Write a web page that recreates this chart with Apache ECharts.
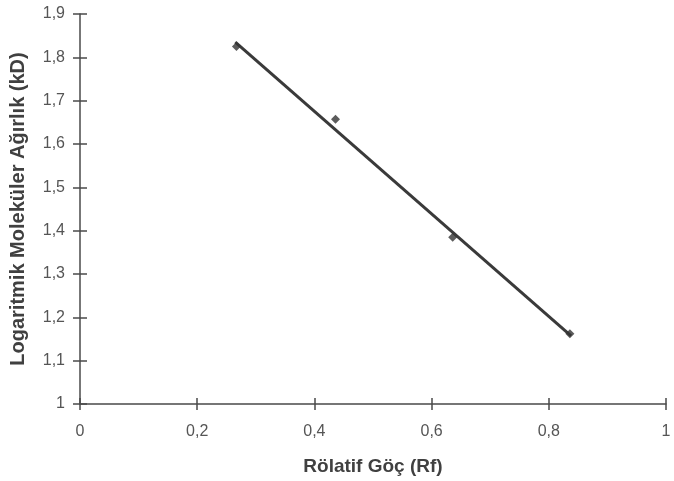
<!DOCTYPE html>
<html><head><meta charset="utf-8">
<script src="https://cdn.jsdelivr.net/npm/echarts@6/dist/echarts.min.js"></script>
<style>html,body{margin:0;padding:0;background:#fff}#c{width:674px;height:481px}</style>
</head><body><div id="c"></div>
<script>
var rfValues = [0.267, 0.436, 0.636, 0.836];
var logMwValues = [1.825, 1.657, 1.385, 1.162];
var trendX = [0.265, 0.838];
var trendY = [1.835, 1.157];
var xTitle = 'Rölatif Göç (Rf)';
var yTitle = 'Logaritmik Moleküler Ağırlık (kD)';

function fmt(v){ return String(+(+v).toFixed(1)).replace('.', ','); }
var pts = rfValues.map(function(x,i){ return [x, logMwValues[i]]; });
var trend = trendX.map(function(x,i){ return [x, trendY[i]]; });
var axisCol = '#4a4a4a';
var labelStyle = {fontFamily:'Liberation Sans', fontSize:16, color:'#555'};
var titleStyle = {fontFamily:'Liberation Sans', fontWeight:'bold', fontSize:19, color:'#404040'};
var chart = echarts.init(document.getElementById('c'), null, {renderer:'canvas'});
chart.setOption({
  backgroundColor:'#fff',
  animation:false,
  grid:{left:80, right:8, top:14, bottom:77},
  xAxis:[{
    type:'value', min:0, max:1, interval:0.2,
    name:xTitle, nameLocation:'middle', nameGap:53,
    nameTextStyle:titleStyle,
    axisLine:{show:true, onZero:false, lineStyle:{color:axisCol, width:1.5}},
    axisTick:{show:true, length:6, lineStyle:{color:axisCol, width:1.5}},
    axisLabel:Object.assign({formatter:fmt, margin:20}, labelStyle),
    splitLine:{show:false}
  },{
    type:'value', min:0, max:1, interval:0.2, position:'bottom', gridIndex:0,
    axisLine:{show:false}, axisTick:{show:true, inside:true, length:6, lineStyle:{color:axisCol, width:1.5}},
    axisLabel:{show:false}, splitLine:{show:false}
  }],
  yAxis:[{
    type:'value', min:1, max:1.9, interval:0.1,
    name:yTitle, nameLocation:'middle', nameGap:52, nameRotate:90,
    nameTextStyle:Object.assign({}, titleStyle, {fontSize:20}),
    axisLine:{show:true, onZero:false, lineStyle:{color:axisCol, width:1.5}},
    axisTick:{show:true, length:7, lineStyle:{color:axisCol, width:1.5}},
    axisLabel:Object.assign({formatter:fmt, margin:15}, labelStyle),
    splitLine:{show:false}
  },{
    type:'value', min:1, max:1.9, interval:0.1, position:'left',
    axisLine:{show:false}, axisTick:{show:true, inside:true, length:7, lineStyle:{color:axisCol, width:1.5}},
    axisLabel:{show:false}, splitLine:{show:false}
  }],
  series:[{
    type:'line', data:trend, showSymbol:false, symbol:'none',
    lineStyle:{color:'#3a3a3a', width:3}, z:2
  },{
    type:'scatter', data:pts, symbol:'diamond', symbolSize:9,
    itemStyle:{color:'#333'}, z:3
  }]
});
</script></body></html>
